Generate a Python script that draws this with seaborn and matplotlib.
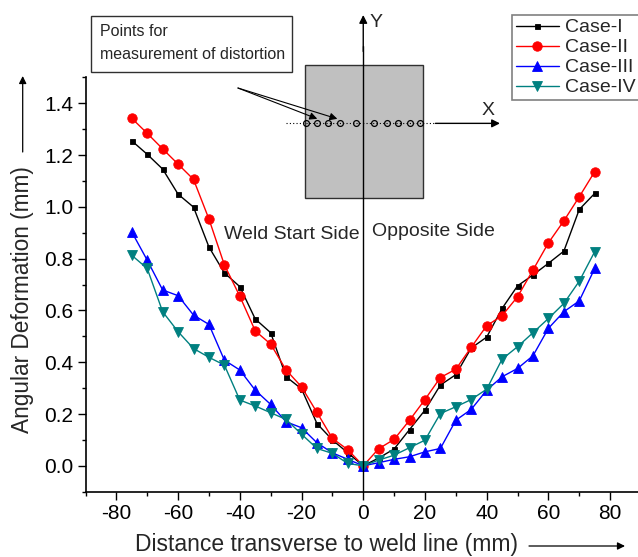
import matplotlib
matplotlib.use("Agg")
import matplotlib.pyplot as plt
from matplotlib.patches import Rectangle, FancyArrowPatch
from matplotlib.ticker import MultipleLocator, FormatStrFormatter
import pandas as pd
import seaborn as sns

# Measurement positions across the weld line (mm)
distance_mm = [-75, -70, -65, -60, -55, -50, -45, -40, -35, -30, -25, -20, -15, -10, -5, 0,
               5, 10, 15, 20, 25, 30, 35, 40, 45, 50, 55, 60, 65, 70, 75]

# Angular deformation (mm) for each welding case
case_i = [1.255, 1.203, 1.146, 1.049, 0.999, 0.845, 0.745, 0.692, 0.567, 0.514, 0.344, 0.297,
          0.163, 0.100, 0.050, 0.0,
          0.030, 0.065, 0.140, 0.215, 0.312, 0.352, 0.455, 0.497, 0.608, 0.695, 0.737, 0.782,
          0.829, 0.990, 1.052]
case_ii = [1.342, 1.284, 1.224, 1.165, 1.106, 0.953, 0.776, 0.655, 0.521, 0.470, 0.370, 0.305,
           0.206, 0.106, 0.062, 0.0,
           0.066, 0.102, 0.176, 0.256, 0.341, 0.373, 0.458, 0.541, 0.580, 0.653, 0.756, 0.861,
           0.946, 1.039, 1.136]
case_iii = [0.903, 0.794, 0.679, 0.657, 0.582, 0.546, 0.408, 0.370, 0.292, 0.237, 0.170, 0.147,
            0.089, 0.050, 0.025, 0.0,
            0.012, 0.025, 0.035, 0.054, 0.067, 0.176, 0.218, 0.292, 0.344, 0.376, 0.425, 0.531,
            0.595, 0.637, 0.762]
case_iv = [0.813, 0.762, 0.595, 0.518, 0.453, 0.419, 0.389, 0.254, 0.231, 0.205, 0.179, 0.122,
           0.067, 0.048, 0.009, 0.0,
           0.022, 0.041, 0.070, 0.099, 0.202, 0.228, 0.256, 0.296, 0.412, 0.460, 0.514, 0.569,
           0.627, 0.713, 0.827]

case_names = ["Case-I", "Case-II", "Case-III", "Case-IV"]
case_colors = ["#000000", "#FF0000", "#0000FF", "#008080"]
case_markers = ["s", "o", "^", "v"]
case_marker_sizes = [3.6, 6.8, 7.0, 7.0]

# Points marked on the plate sketch (mm along X)
sketch_points_x = [-18.6, -14.9, -11.4, -7.4, -2.4, 3.4, 7.6, 11.3, 15.1, 18.3]

x_ticks = [-80, -60, -40, -20, 0, 20, 40, 60, 80]
y_ticks = [0.0, 0.2, 0.4, 0.6, 0.8, 1.0, 1.2, 1.4]

df = pd.DataFrame({
    "Distance": distance_mm * 4,
    "Deformation": case_i + case_ii + case_iii + case_iv,
    "Case": [n for n in case_names for _ in distance_mm],
})

sns.set_style("ticks")
plt.rcParams["font.family"] = ["Liberation Sans", "DejaVu Sans"]

W, H = 638, 557
fig = plt.figure(figsize=(W / 100, H / 100), dpi=100)
ax = fig.add_axes([85.5 / W, 65.3 / H, 555.5 / W, 414.3 / H])

for name, col, mk, ms in zip(case_names, case_colors, case_markers, case_marker_sizes):
    sns.lineplot(data=df[df["Case"] == name], x="Distance", y="Deformation",
                 estimator=None, sort=False, color=col, marker=mk, markersize=ms,
                 markeredgewidth=0.6, markeredgecolor=col, linewidth=1.0,
                 label=name, ax=ax, legend=False)

ax.set_xlim(-90, 90)
ax.set_ylim(-0.1, 1.5)
ax.set_xticks(x_ticks)
ax.set_xticklabels([str(t) for t in x_ticks])
ax.xaxis.set_minor_locator(MultipleLocator(10))
ax.set_yticks(y_ticks)
ax.yaxis.set_major_formatter(FormatStrFormatter("%.1f"))
ax.yaxis.set_minor_locator(MultipleLocator(0.1))
ax.tick_params(which="major", direction="out", length=6, width=1.0, labelsize=15,
               pad=3, color="black", labelcolor="black")
ax.tick_params(which="minor", direction="out", length=3, width=1.0, color="black")
for side in ("top", "right"):
    ax.spines[side].set_visible(False)
for side in ("left", "bottom"):
    ax.spines[side].set_linewidth(1.2)
    ax.spines[side].set_color("black")

ax.set_xlabel("Distance transverse to weld line (mm)", fontsize=16.5)
ax.set_ylabel("Angular Deformation (mm)", fontsize=16.3)
ax.xaxis.set_label_coords((326.5 - 85.5) / 555.5, (491.7 - 545) / 414.3)
ax.xaxis.label.set_va("center")
ax.yaxis.set_label_coords((23 - 85.5) / 555.5, (491.7 - 300) / 414.3)
ax.yaxis.label.set_va("center")

# Arrows next to the axis titles
arrow_kw = dict(arrowstyle="-|>", color="black", lw=0.9, mutation_scale=11,
                shrinkA=0, shrinkB=0)
fig.add_artist(FancyArrowPatch((529, H - 546), (625, H - 546), transform=None, **arrow_kw))
fig.add_artist(FancyArrowPatch((22.7, H - 152), (22.7, H - 76), transform=None, **arrow_kw))

# Side labels
ax.text(-45.2, 0.895, "Weld Start Side", fontsize=14, ha="left", va="center")
ax.text(2.8, 0.904, "Opposite Side", fontsize=14, ha="left", va="center")

# Plate sketch with the weld line as Y axis
ax.add_patch(Rectangle((-18.9, 1.035), 38.1, 0.513, facecolor="#C0C0C0",
                       edgecolor="#303030", linewidth=1.0, clip_on=False, zorder=1))
ax.plot([0, 0], [-0.1, 1.62], color="black", lw=1.0, clip_on=False, zorder=2)
ax.annotate("", xy=(0, 1.741), xytext=(0, 1.60), annotation_clip=False,
            arrowprops=dict(arrowstyle="-|>", color="black", lw=1.0, mutation_scale=12,
                            shrinkA=0, shrinkB=0))
ax.text(4.3, 1.711, "Y", fontsize=14, ha="center", va="center")
ax.plot([-24.9, 23.4], [1.3225, 1.3225], color="black", lw=0.8, ls=(0, (1, 2)),
        clip_on=False, zorder=3)
ax.annotate("", xy=(44.3, 1.3225), xytext=(23.4, 1.3225), annotation_clip=False,
            arrowprops=dict(arrowstyle="-|>", color="black", lw=1.0, mutation_scale=12,
                            shrinkA=0, shrinkB=0))
ax.text(40.3, 1.372, "X", fontsize=14, ha="center", va="center")
ax.plot(sketch_points_x, [1.3225] * len(sketch_points_x), ls="none", marker="o",
        markersize=4.2, markerfacecolor="none", markeredgecolor="black",
        markeredgewidth=0.9, clip_on=False, zorder=4)

# Callout box for the measurement points
fig.add_artist(Rectangle((90.7, H - 71.7), 201.0, 56.0, transform=None,
                         facecolor="white", edgecolor="#303030", linewidth=1.0))
fig.text(100.4 / W, 1 - 31 / H, "Points for", fontsize=11.5, ha="left", va="center")
fig.text(100.4 / W, 1 - 54.3 / H, "measurement of distortion", fontsize=11.5,
         ha="left", va="center")
for tx in (-14.9, -8.4):
    ax.annotate("", xy=(tx, 1.340), xytext=(-40.6, 1.459), annotation_clip=False,
                arrowprops=dict(arrowstyle="-|>", color="black", lw=0.8,
                                mutation_scale=11, shrinkA=0, shrinkB=0))

handles, labels = ax.get_legend_handles_labels()
leg = ax.legend(handles, labels, loc="upper left", bbox_to_anchor=(512 / W, 1 - 15 / H),
                bbox_transform=fig.transFigure, borderaxespad=0, frameon=True,
                fancybox=False, edgecolor="#606060", fontsize=14, handlelength=2.2,
                handletextpad=0.3, labelspacing=0.12, borderpad=0.2)
leg.get_frame().set_linewidth(1.2)

fig.savefig("out.png", dpi=100)
